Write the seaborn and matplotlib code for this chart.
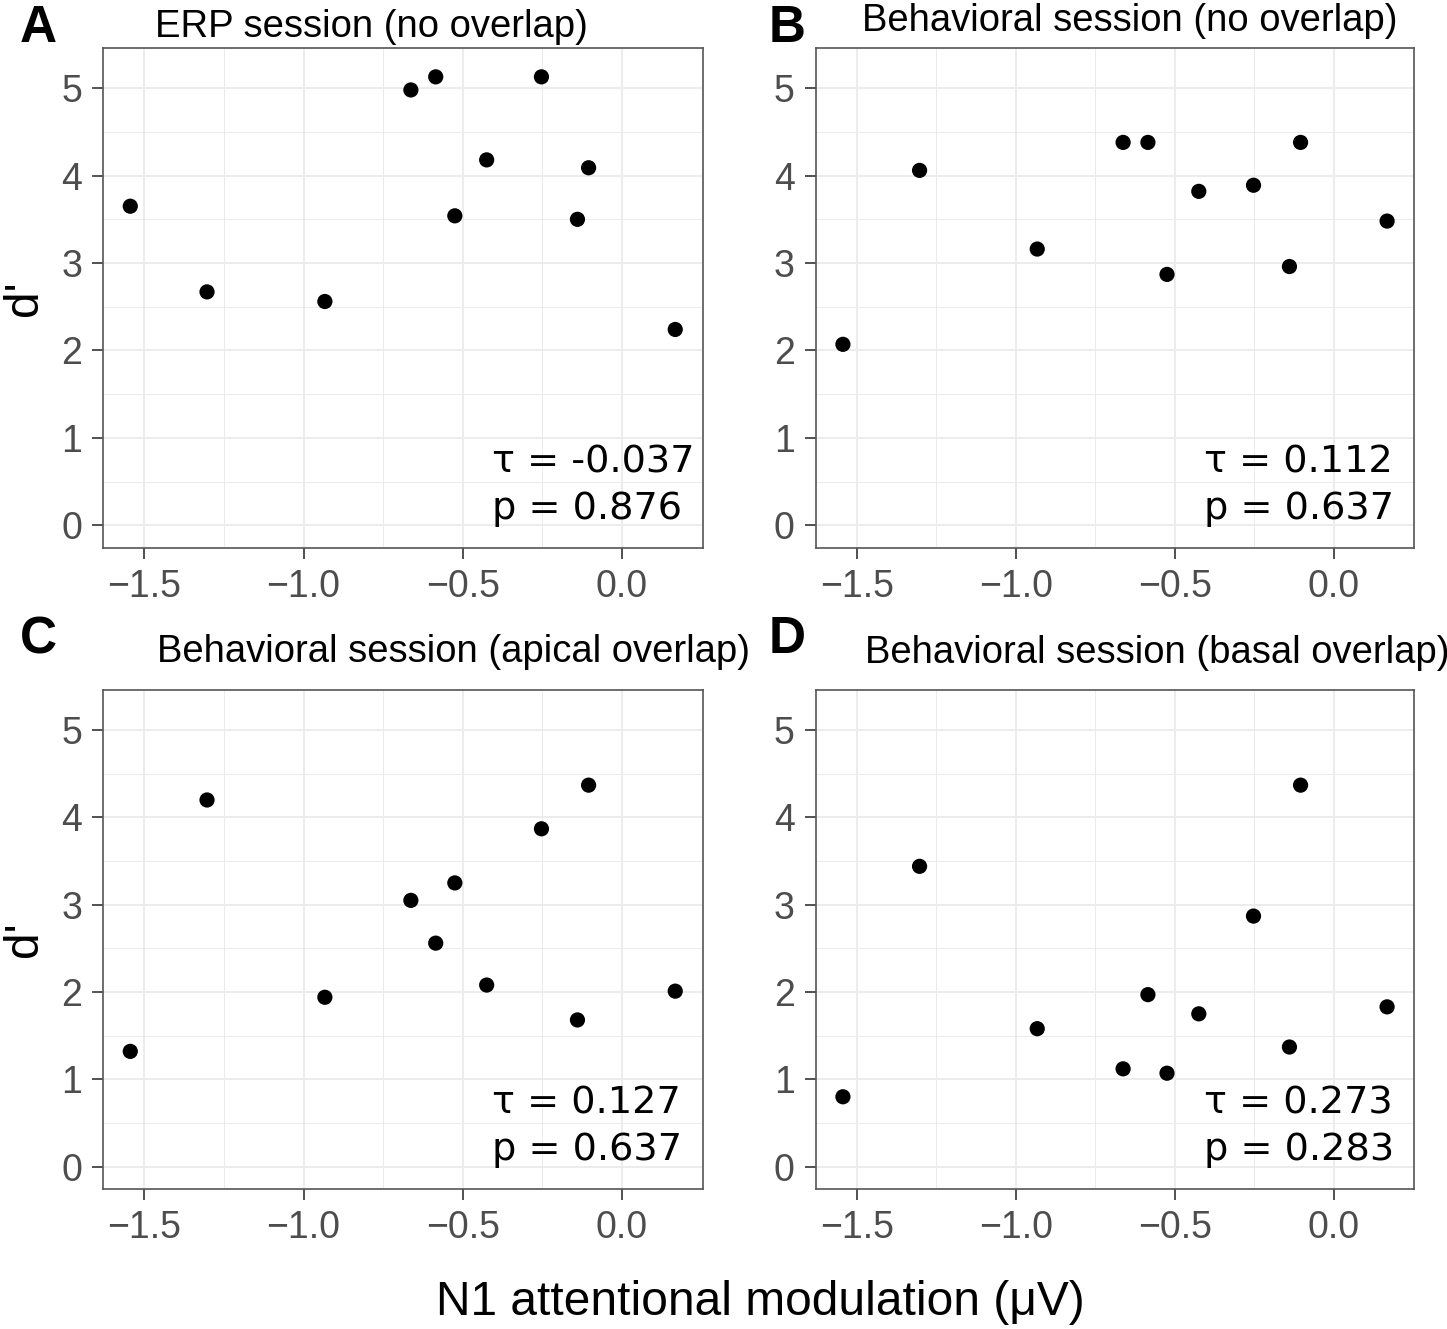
import matplotlib
matplotlib.use("Agg")
import matplotlib.pyplot as plt
import seaborn as sns
import numpy as np
import pandas as pd

# ---- data ----
n1_mod = [-1.544, -1.303, -0.933, -0.663, -0.585, -0.525, -0.425, -0.253, -0.140, -0.105, 0.167]
d_erp_no = [3.65, 2.67, 2.56, 4.98, 5.13, 3.54, 4.18, 5.13, 3.50, 4.09, 2.24]
d_beh_no = [2.07, 4.06, 3.16, 4.38, 4.38, 2.87, 3.82, 3.89, 2.96, 4.38, 3.48]
d_beh_apical = [1.32, 4.20, 1.94, 3.05, 2.56, 3.25, 2.08, 3.87, 1.68, 4.37, 2.01]
d_beh_basal = [0.80, 3.44, 1.58, 1.12, 1.97, 1.07, 1.75, 2.87, 1.37, 4.37, 1.83]

panel_letters = ["A", "B", "C", "D"]
panel_titles = ["ERP session (no overlap)", "Behavioral session (no overlap)",
                "Behavioral session (apical overlap)", "Behavioral session (basal overlap)"]
tau_labels = ["τ = -0.037", "τ = 0.112", "τ = 0.127", "τ = 0.273"]
p_labels = ["p = 0.876", "p = 0.637", "p = 0.637", "p = 0.283"]
x_ticks = [-1.5, -1.0, -0.5, 0.0]
y_ticks = [0, 1, 2, 3, 4, 5]

series = [d_erp_no, d_beh_no, d_beh_apical, d_beh_basal]

sns.set_theme(style="white")
plt.rcParams['font.family'] = ['Liberation Sans', 'DejaVu Sans']

W, H = 1447, 1329
fig = plt.figure(figsize=(W / 100, H / 100), dpi=100)

# axes pixel boxes: left, right, top, bottom
boxes = [(103, 702.5, 48, 548), (815.7, 1414.3, 48, 548),
         (103, 702.5, 690, 1189.3), (815.7, 1414.3, 690, 1189.3)]
title_pos = [(155, 37), (862, 31), (157, 662), (865, 663)]
letter_pos = [(20, 42), (769, 42), (20, 653), (769, 653)]

grid_col = "#EBEBEB"
border_col = "#555555"
tick_col = "#4D4D4D"

for i in range(4):
    l, r, t, b = boxes[i]
    ax = fig.add_axes([l / W, 1 - b / H, (r - l) / W, (b - t) / H])
    df = pd.DataFrame({"x": n1_mod, "y": series[i]})
    sns.scatterplot(data=df, x="x", y="y", ax=ax, color="black", s=120,
                    edgecolor="none", linewidth=0, zorder=3)
    ax.set_xlim(-1.6296, 0.2526)
    ax.set_ylim(-0.26, 5.46)
    ax.set_xticks(x_ticks)
    ax.set_xticklabels([f"{v:.1f}".replace("-", "\u2212") for v in x_ticks])
    ax.set_yticks(y_ticks)
    ax.set_yticklabels([str(v) for v in y_ticks])
    ax.set_xticks([-1.25, -0.75, -0.25], minor=True)
    ax.set_yticks([0.5, 1.5, 2.5, 3.5, 4.5], minor=True)
    ax.grid(True, which="major", color=grid_col, linewidth=1.3, zorder=0)
    ax.grid(True, which="minor", color=grid_col, linewidth=0.7, zorder=0)
    ax.set_axisbelow(True)
    ax.tick_params(axis="both", which="major", length=8, width=1.2, color="#333333",
                   labelsize=27, labelcolor=tick_col, pad=7, bottom=True, left=True)
    ax.tick_params(axis="both", which="minor", length=0)
    for sp in ax.spines.values():
        sp.set_color(border_col)
        sp.set_linewidth(1.2)
        sp.set_visible(True)
    ax.set_xlabel("")
    if i % 2 == 0:
        ax.set_ylabel("d'", fontsize=34.5, color="black", labelpad=10)
    else:
        ax.set_ylabel("")
    ax.text(0.649, 0.151, tau_labels[i], transform=ax.transAxes, ha="left",
            va="baseline", fontsize=27.5, family="DejaVu Sans", color="black")
    ax.text(0.649, 0.058, p_labels[i], transform=ax.transAxes, ha="left",
            va="baseline", fontsize=27.5, family="DejaVu Sans", color="black")
    tx, ty = title_pos[i]
    fig.text(tx / W, 1 - ty / H, panel_titles[i], ha="left", va="baseline",
             fontsize=27.5, color="black")
    lx, ly = letter_pos[i]
    fig.text(lx / W, 1 - ly / H, panel_letters[i], ha="left", va="baseline",
             fontsize=37, fontweight="bold", color="black")

fig.text(760 / W, 1 - 1315 / H, "N1 attentional modulation (μV)", ha="center",
         va="baseline", fontsize=34.5, color="black")

fig.savefig("out.png", dpi=100, facecolor="white")
